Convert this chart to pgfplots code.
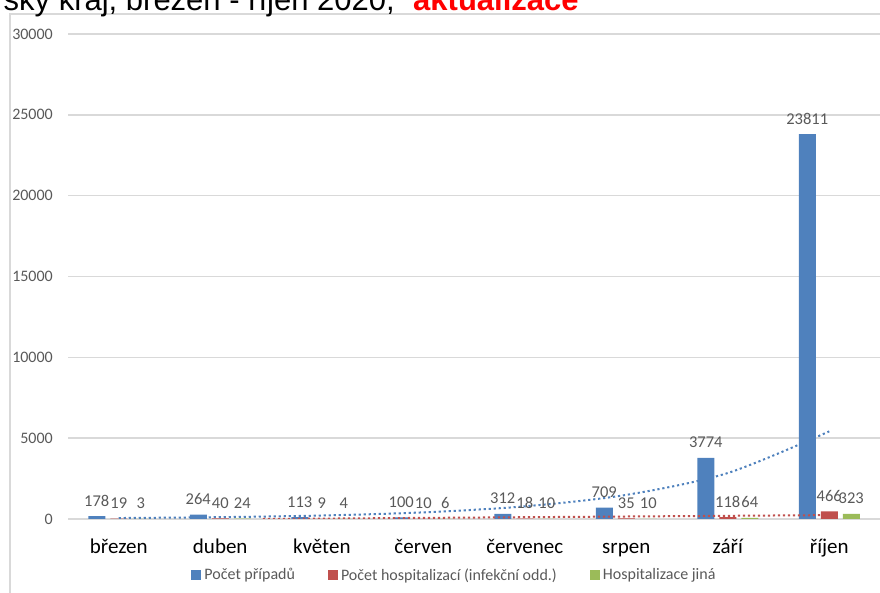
\documentclass[border=0pt]{standalone}
\usepackage{pgfplots}
\pgfplotsset{compat=1.18}
\usepackage{fontspec}
\setmainfont{Carlito}
\newfontfamily\arialfont{Liberation Sans}
\definecolor{cblue}{HTML}{4F81BD}
\definecolor{cred}{HTML}{C0504D}
\definecolor{cgreen}{HTML}{9BBB59}
\definecolor{cgrid}{HTML}{D9D9D9}
\definecolor{ctext}{HTML}{595959}
\begin{document}
\begin{tikzpicture}[x=1pt,y=1pt]
\useasboundingbox (0,0) rectangle (880,593);
\clip (0,0) rectangle (880,593);
\draw[cgrid, line width=1.5pt] (10,-5) -- (10,579) -- (890,579);
\node[anchor=base east, inner sep=0, font=\arialfont\fontsize{31}{36}\selectfont] at (395,582) {ský kraj, březen - říjen 2020,};
\node[anchor=base west, inner sep=0, font=\arialfont\bfseries\fontsize{31}{36}\selectfont, text=red] at (413,582) {aktualizace};
\begin{axis}[
  at={(68pt,74pt)}, anchor=south west, scale only axis,
  width=812pt, height=485pt,
  ybar, bar width=17pt,
  xmin=-0.5, xmax=7.5, ymin=0, ymax=30000, enlargelimits=false,
  axis line style={draw=none},
  major tick length=0pt,
  scaled y ticks=false,
  xtick={0,1,2,3,4,5,6,7},
  xticklabels={březen, duben, květen, červen, červenec, srpen, září, říjen},
  xticklabel style={font=\fontsize{21}{25}\selectfont, text=black, anchor=base, inner sep=0pt, yshift=-35pt},
  ytick={0,5000,10000,15000,20000,25000,30000},
  yticklabel style={font=\fontsize{16}{19}\selectfont, text=ctext, anchor=east, inner sep=0pt, xshift=-15pt},
  ymajorgrids, grid style={cgrid, line width=1.5pt},
  /pgf/number format/1000 sep={},
  /pgf/number format/assume math mode=true,
  every node near coord/.append style={font=\fontsize{16.5}{19}\selectfont, text=ctext, anchor=base, inner sep=0pt, yshift=10pt},
  legend style={draw=none, fill=none, at={(0.4766,-0.1155)}, anchor=center,
    legend columns=3, font=\fontsize{16}{19}\selectfont, text=ctext,
    nodes={inner xsep=3pt, inner ysep=1pt},
    /tikz/every even column/.append style={column sep=30pt}},
  legend image code/.code={\fill[#1] (0pt,-5pt) rectangle (10pt,5pt);},
]
\addplot[fill=cblue, draw=none, bar shift=-22pt, nodes near coords] coordinates {(0,178) (1,264) (2,113) (3,100) (4,312) (5,709) (6,3774) (7,23811)};
\addlegendentry{Počet případů}
\addplot[fill=cred, draw=none, bar shift=0pt, nodes near coords] coordinates {(0,19) (1,40) (2,9) (3,10) (4,18) (5,35) (6,118) (7,466)};
\addlegendentry{Počet hospitalizací (infekční odd.)}
\addplot[fill=cgreen, draw=none, bar shift=22pt, nodes near coords] coordinates {(0,3) (1,24) (2,4) (3,6) (4,10) (5,10) (6,64) (7,323)};
\addlegendentry{Hospitalizace jiná}
\addplot[cblue, line width=2pt, dash pattern=on 2.2pt off 2.8pt, smooth, forget plot] coordinates {(0,59) (1,113) (2,215) (3,410) (4,782) (5,1491) (6,2844) (7,5420)};
\addplot[cred, line width=2pt, dash pattern=on 2.2pt off 2.8pt, sharp plot, forget plot] coordinates {(1.42,0) (7,240)};
\end{axis}
\end{tikzpicture}
\end{document}
